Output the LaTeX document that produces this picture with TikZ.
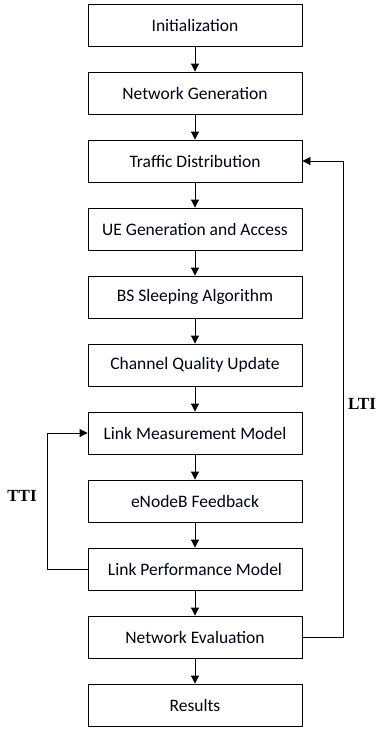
\documentclass[tikz,border=0pt]{standalone}
\usepackage{fontspec}
\setmainfont{Carlito}
\newfontfamily\labelfont{Liberation Serif}
\usetikzlibrary{arrows.meta}
\begin{document}
\begin{tikzpicture}[x=1pt,y=-1pt,
  stepbox/.style={draw=black, line width=0.9pt, minimum width=214pt, minimum height=42pt, inner sep=0pt, font=\fontsize{17.5}{20}\selectfont, text=black!90!blue},
  conn/.style={line width=0.9pt, -{Triangle[length=8pt,width=8pt]}},
  looplabel/.style={font=\labelfont\bfseries\fontsize{17}{20}\selectfont, inner sep=0pt}]
\useasboundingbox (0,0) rectangle (377,729);
\node[stepbox] (n0) at (195,25) {Initialization};
\node[stepbox] (n1) at (195,93) {Network Generation};
\node[stepbox] (n2) at (195,161) {Traffic Distribution};
\node[stepbox] (n3) at (195,229) {UE Generation and Access};
\node[stepbox] (n4) at (195,297) {BS Sleeping Algorithm};
\node[stepbox] (n5) at (195,365) {Channel Quality Update};
\node[stepbox] (n6) at (195,433) {Link Measurement Model};
\node[stepbox] (n7) at (195,501) {eNodeB Feedback};
\node[stepbox] (n8) at (195,569) {Link Performance Model};
\node[stepbox] (n9) at (195,637) {Network Evaluation};
\node[stepbox] (n10) at (195,705) {Results};
\foreach \a/\b in {n0/n1,n1/n2,n2/n3,n3/n4,n4/n5,n5/n6,n6/n7,n7/n8,n8/n9,n9/n10}
  \draw[conn] (\a) -- (\b);
\coordinate (ltiR) at (343,0);
\coordinate (ttiL) at (47,0);
\draw[conn] (n9.east) -- (n9.east -| ltiR) -- (n2.east -| ltiR) -- (n2.east);
\draw[conn] (n8.west) -- (n8.west -| ttiL) -- (n6.west -| ttiL) -- (n6.west);
\node[looplabel] (tti) at (22,496) {TTI};
\node[looplabel] (lti) at (362,404) {LTI};
\end{tikzpicture}
\end{document}
